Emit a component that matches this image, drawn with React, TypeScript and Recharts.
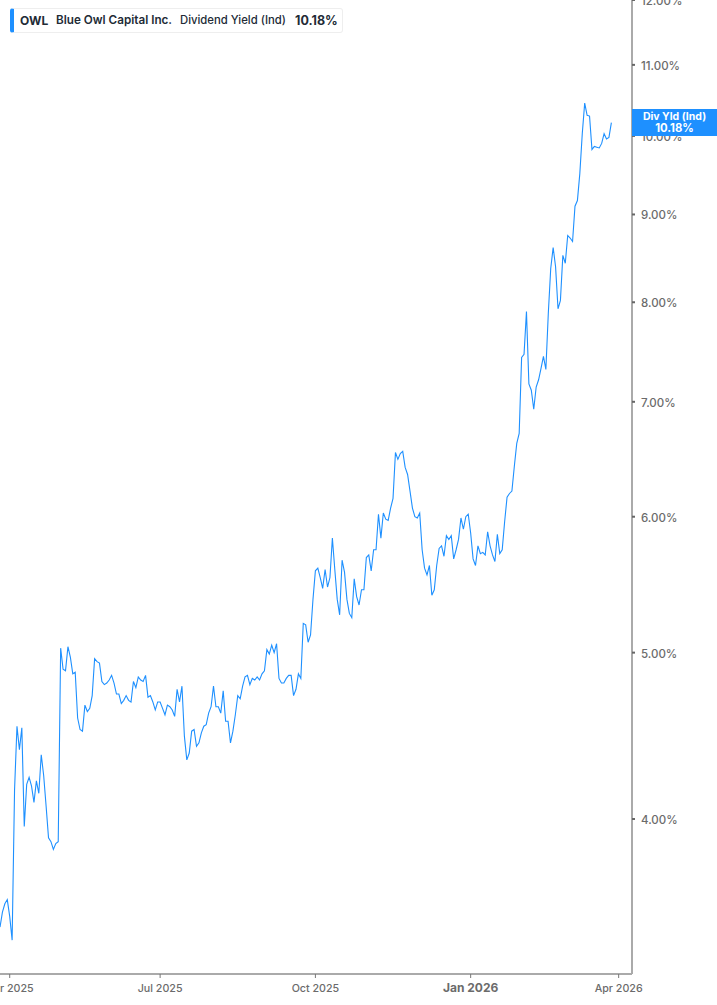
// App.tsx
import React from "react";
import { LineChart, Line, XAxis, YAxis } from "recharts";

// daily dividend yield (%), one value per trading day
const yields = [
  3.46, 3.53, 3.57, 3.59, 3.51, 3.4, 4.16, 4.53, 4.39, 4.52, 3.96, 4.19, 4.23, 4.18, 4.09, 4.21,
  4.14, 4.36, 4.24, 4.07, 3.9, 3.88, 3.84, 3.87, 3.88, 5.03, 4.89, 4.88, 5.04, 4.97, 4.86, 4.87,
  4.58, 4.51, 4.5, 4.66, 4.62, 4.64, 4.72, 4.96, 4.94, 4.93, 4.81, 4.79, 4.8, 4.82, 4.85, 4.8,
  4.73, 4.73, 4.67, 4.69, 4.72, 4.69, 4.68, 4.81, 4.77, 4.84, 4.82, 4.81, 4.85, 4.71, 4.72, 4.68,
  4.63, 4.68, 4.68, 4.64, 4.6, 4.66, 4.65, 4.63, 4.59, 4.76, 4.68, 4.78, 4.47, 4.33, 4.37, 4.5,
  4.51, 4.41, 4.43, 4.49, 4.53, 4.54, 4.61, 4.65, 4.78, 4.65, 4.65, 4.61, 4.75, 4.56, 4.56, 4.43,
  4.5, 4.6, 4.72, 4.7, 4.78, 4.84, 4.85, 4.79, 4.83, 4.82, 4.84, 4.82, 4.86, 4.88, 5.02, 4.99,
  5.05, 5.0, 5.06, 4.83, 4.8, 4.8, 4.83, 4.85, 4.85, 4.72, 4.76, 4.86, 4.83, 5.2, 5.19, 5.07,
  5.12, 5.37, 5.58, 5.6, 5.53, 5.45, 5.59, 5.46, 5.53, 5.83, 5.59, 5.37, 5.26, 5.66, 5.57, 5.37,
  5.27, 5.24, 5.52, 5.39, 5.33, 5.44, 5.44, 5.68, 5.7, 5.58, 5.74, 5.74, 6.02, 5.83, 6.03, 5.98,
  5.97, 6.07, 6.15, 6.54, 6.48, 6.53, 6.55, 6.41, 6.35, 6.21, 6.07, 6.0, 5.99, 6.03, 5.74, 5.6,
  5.55, 5.62, 5.4, 5.44, 5.62, 5.75, 5.77, 5.69, 5.85, 5.82, 5.85, 5.67, 5.74, 5.82, 5.99, 5.9,
  6.0, 6.02, 5.87, 5.67, 5.62, 5.77, 5.71, 5.72, 5.7, 5.88, 5.77, 5.7, 5.65, 5.86, 5.71, 5.74,
  5.96, 6.16, 6.19, 6.21, 6.42, 6.62, 6.71, 7.43, 7.46, 7.9, 7.17, 7.11, 6.93, 7.14, 7.21, 7.32,
  7.44, 7.31, 7.88, 8.37, 8.61, 8.39, 7.93, 8.02, 8.52, 8.43, 8.75, 8.72, 8.68, 9.1, 9.17, 9.51,
  10.03, 10.45, 10.28, 10.27, 9.82, 9.86, 9.85, 9.84, 9.9, 10.03, 9.96, 9.98, 10.18,
];

const yTicks = [4, 5, 6, 7, 8, 9, 10, 11, 12];
const xTicks = [4, 66, 130, 194, 255];
const xLabels = ["Apr 2025", "Jul 2025", "Oct 2025", "Jan 2026", "Apr 2026"];

const data = yields.map((v, i) => ({ day: i, value: v }));

const BLUE = "#1e90ff";
const FONT = "Inter, sans-serif";

function DateTick({ x, y, payload }: any) {
  const idx = xTicks.indexOf(payload.value);
  // the year change is drawn heavier
  const isYear = xLabels[idx] === "Jan 2026";
  return (
    <text
      x={x}
      y={y + 12}
      textAnchor="middle"
      fill="#6b6b6b"
      fontFamily={FONT}
      fontSize={isYear ? 12 : 10.7}
      fontWeight={isYear ? 700 : 500}
    >
      {xLabels[idx]}
    </text>
  );
}

function YieldTick({ x, y, payload }: any) {
  return (
    <text x={x} y={y + 5} textAnchor="start" fill="#6b6b6b" fontFamily={FONT} fontSize={11.5} fontWeight={500}>
      {payload.value.toFixed(2) + "%"}
    </text>
  );
}

export default function App() {
  return (
    <div style={{ position: "absolute", left: 0, top: 0, width: 717, height: 1005, background: "#fff", overflow: "hidden" }}>
      <LineChart width={717} height={1005} data={data} margin={{ top: 0, right: 0, bottom: 0, left: 0 }}>
        <XAxis
          dataKey="day"
          type="number"
          domain={[0.4, 260.5]}
          ticks={xTicks}
          interval={0}
          height={31}
          tickSize={4}
          tick={<DateTick />}
          axisLine={{ stroke: "#aaaaaa", strokeWidth: 2 }}
          tickLine={{ stroke: "#777777" }}
        />
        <YAxis
          orientation="right"
          scale="log"
          domain={[3.249, 12]}
          allowDataOverflow
          ticks={yTicks}
          interval={0}
          width={85}
          tickSize={3}
          tickMargin={6}
          tick={<YieldTick />}
          axisLine={{ stroke: "#aaaaaa", strokeWidth: 2 }}
          tickLine={{ stroke: "#666666", strokeWidth: 2 }}
        />
        <Line
          type="linear"
          dataKey="value"
          stroke={BLUE}
          strokeWidth={1.1}
          dot={false}
          activeDot={false}
          isAnimationActive={false}
        />
      </LineChart>

      {/* legend chip */}
      <div
        style={{
          position: "absolute", left: 10, top: 8, width: 333, height: 25, boxSizing: "border-box",
          border: "1px solid #eeeeee", borderLeft: `4px solid ${BLUE}`, borderRadius: 3,
          fontFamily: FONT, fontSize: 11.7, lineHeight: "23px", color: "#222b36", whiteSpace: "nowrap",
        }}
      >
        <span style={{ position: "absolute", left: 6, fontWeight: 700, fontSize: 12 }}>OWL</span>
        <span style={{ position: "absolute", left: 42, fontWeight: 600 }}>Blue Owl Capital Inc.</span>
        <span style={{ position: "absolute", left: 166, fontWeight: 500, fontSize: 11.3 }}>Dividend Yield (Ind)</span>
        <span style={{ position: "absolute", left: 281, fontWeight: 700, fontSize: 12.5 }}>10.18%</span>
      </div>

      {/* last value flag on the axis */}
      <div
        style={{
          position: "absolute", left: 632, top: 109, width: 85, height: 27, background: BLUE, color: "#fff",
          fontFamily: FONT, fontWeight: 700, textAlign: "center", boxSizing: "border-box",
        }}
      >
        <div style={{ fontSize: 10.5, lineHeight: "12px", marginTop: 2 }}>Div Yld (Ind)</div>
        <div style={{ fontSize: 11.3, lineHeight: "12px", marginTop: -1 }}>10.18%</div>
      </div>
    </div>
  );
}
